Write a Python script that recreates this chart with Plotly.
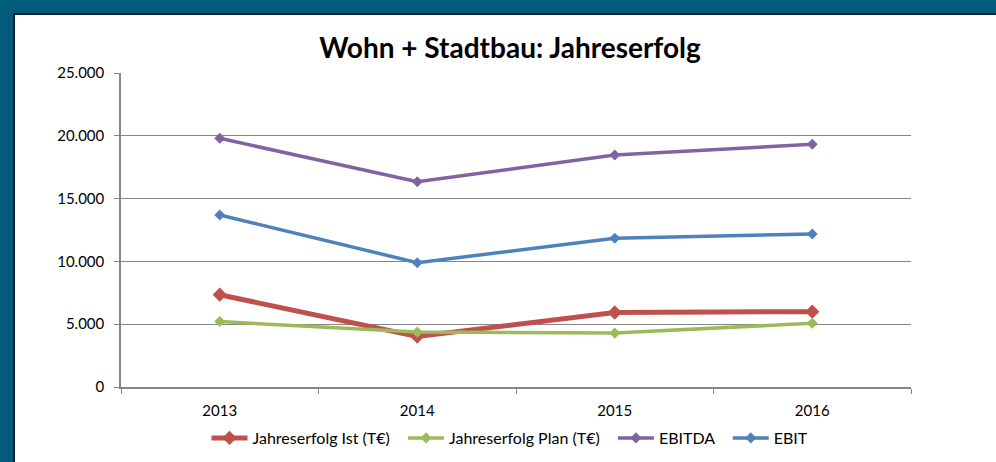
import plotly.graph_objects as go

years = ["2013", "2014", "2015", "2016"]
ist = [7350, 4020, 5930, 6000]
plan = [5210, 4370, 4290, 5080]
ebitda = [19800, 16340, 18470, 19320]
ebit = [13700, 9900, 11840, 12180]

W, H = 996, 462
L, R, T, B = 121, 85, 73, 75
PW, PH = W - L - R, H - T - B

def px_x(x):
    return (x - L) / PW

def px_y(y):
    return (H - B - y) / PH

FONT = "Lato, Calibri, Carlito, sans-serif"
PAD = "\u00a0\u00a0"

fig = go.Figure()
series = [
    ("Jahreserfolg Ist (T€)", ist, "#C0504D", 5, 11, PAD),
    ("Jahreserfolg Plan (T€)", plan, "#9BBB59", 3.5, 8.5, PAD),
    ("EBITDA", ebitda, "#8064A2", 3.5, 8.5, PAD),
    ("EBIT", ebit, "#4F81BD", 3.5, 8.5, ""),
]
for name, vals, col, lw, ms, pad in series:
    fig.add_trace(go.Scatter(
        x=years, y=vals, name=name + pad, mode="lines+markers",
        line=dict(color=col, width=lw),
        marker=dict(symbol="diamond", size=ms, color=col),
    ))

teal = "#005C7A"
dark = "#0B1E28"
shapes = [
    dict(type="rect", xref="paper", yref="paper", x0=px_x(-5), x1=px_x(13),
         y0=px_y(-5), y1=px_y(H + 5), fillcolor=teal, line_width=0, layer="above"),
    dict(type="rect", xref="paper", yref="paper", x0=px_x(-5), x1=px_x(W + 5),
         y0=px_y(13), y1=px_y(-5), fillcolor=teal, line_width=0, layer="above"),
    dict(type="rect", xref="paper", yref="paper", x0=px_x(13), x1=px_x(15),
         y0=px_y(13), y1=px_y(H + 5), fillcolor=dark, line_width=0, layer="above"),
    dict(type="rect", xref="paper", yref="paper", x0=px_x(13), x1=px_x(W + 5),
         y0=px_y(15), y1=px_y(13), fillcolor=dark, line_width=0, layer="above"),
]

fig.update_layout(
    width=W, height=H,
    margin=dict(l=L, r=R, t=T, b=B, autoexpand=False),
    paper_bgcolor="white", plot_bgcolor="white",
    separators=",.",
    font=dict(family=FONT, size=15, color="#000000"),
    title=dict(text="<b>Wohn + Stadtbau: Jahreserfolg</b>", x=510 / W, xanchor="center",
               y=1 - 48 / H, yanchor="middle", font=dict(family=FONT, size=28, color="#000000")),
    shapes=shapes,
    showlegend=True,
    legend=dict(orientation="h", x=px_x(510), xanchor="center", y=px_y(438), yanchor="middle",
                font=dict(family=FONT, size=16), itemwidth=36, tracegroupgap=0,
                bgcolor="rgba(0,0,0,0)"),
    xaxis=dict(type="category", tickson="boundaries", showgrid=False, automargin=False,
               showline=True, linecolor="#868686", linewidth=1.5,
               ticks="outside", ticklen=5, tickcolor="#868686", tickwidth=1,
               ticklabelstandoff=9,
               tickfont=dict(family=FONT, size=15), range=[-0.5, 3.5]),
    yaxis=dict(range=[0, 25000], dtick=5000, tickformat=",.0f", automargin=False,
               showgrid=True, gridcolor="#868686", gridwidth=1,
               showline=True, linecolor="#868686", linewidth=1.5,
               ticks="outside", ticklen=5, tickcolor="#868686",
               ticklabelstandoff=7,
               zeroline=False, tickfont=dict(family=FONT, size=15)),
)

fig.write_html("out.html", config={"displayModeBar": False},
               post_script="document.body.style.margin='0px';document.body.style.overflow='hidden';")
